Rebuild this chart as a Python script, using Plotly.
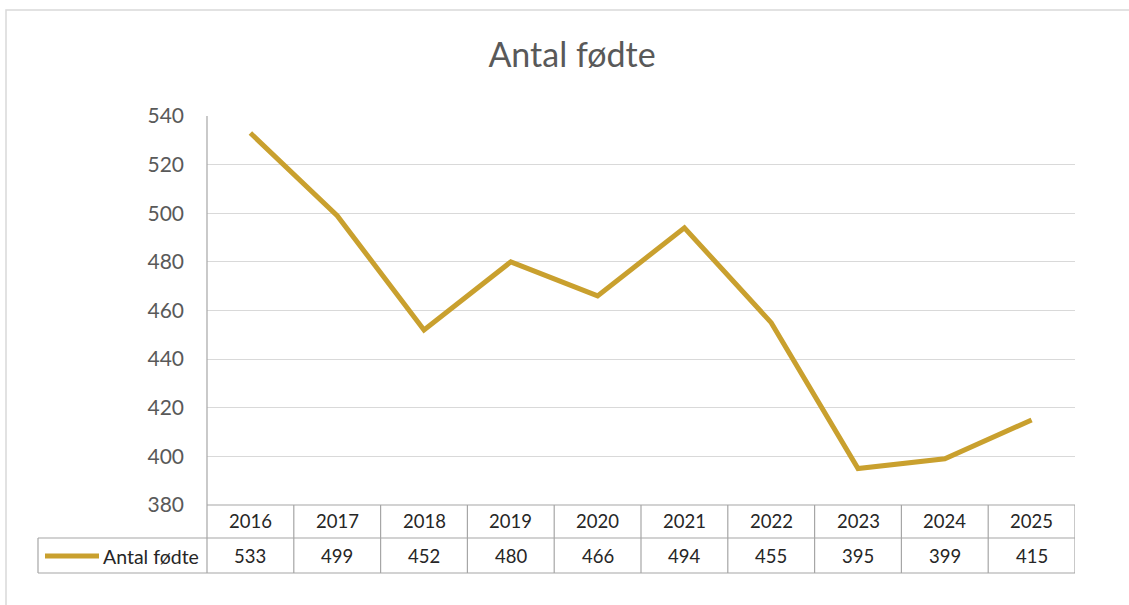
import plotly.graph_objects as go

years = ["2016", "2017", "2018", "2019", "2020", "2021", "2022", "2023", "2024", "2025"]
values = [533, 499, 452, 480, 466, 494, 455, 395, 399, 415]
series_name = "Antal fødte"
title_text = "Antal fødte"
y_ticks = [380, 400, 420, 440, 460, 480, 500, 520, 540]

OFF = 0  # body margin removed via post_script
W, H = 1129 - OFF, 605 - OFF
PL, PR, PT, PB = 207, 1075, 116, 505   # plot area in page pixels
ML = PL - OFF
MT = PT - OFF
MR = W - (PR - OFF)
MB = H - (PB - OFF)
PW = PR - PL
PH = PB - PT

def px_to_paper_x(px):
    return (px - PL) / PW

def px_to_paper_y(py):
    return (PB - py) / PH

line_color = "#C9A02E"
table_color = "#A6A6A6"
grid_color = "#D9D9D9"
font_family = "Lato, 'Open Sans', sans-serif"

xs = list(range(len(years)))

fig = go.Figure()
fig.add_trace(go.Scatter(
    x=xs, y=values, mode="lines", name=series_name,
    line=dict(color=line_color, width=5),
    hoverinfo="skip", showlegend=False,
))

row1_top = px_to_paper_y(505)
row1_bot = px_to_paper_y(538)
row2_bot = px_to_paper_y(573)
tbl_left = px_to_paper_x(38)

shapes = []
# outer chart border
shapes.append(dict(type="rect", xref="paper", yref="paper",
                   x0=px_to_paper_x(6), x1=1.3, y0=-0.6, y1=px_to_paper_y(10),
                   line=dict(color=grid_color, width=1.5), layer="below"))
# vertical axis line extended through table
shapes.append(dict(type="line", xref="paper", yref="paper", x0=0, x1=0,
                   y0=row2_bot, y1=1, line=dict(color=table_color, width=1.2)))
# horizontal table lines
shapes.append(dict(type="line", xref="paper", yref="paper", x0=0, x1=1,
                   y0=row1_top, y1=row1_top, line=dict(color=table_color, width=1.2)))
for yy in (row1_bot, row2_bot):
    shapes.append(dict(type="line", xref="paper", yref="paper", x0=tbl_left, x1=1,
                       y0=yy, y1=yy, line=dict(color=table_color, width=1.2)))
# table left edge
shapes.append(dict(type="line", xref="paper", yref="paper", x0=tbl_left, x1=tbl_left,
                   y0=row2_bot, y1=row1_bot, line=dict(color=table_color, width=1.2)))
# column separators
for i in xs:
    shapes.append(dict(type="line", xref="x", yref="paper", x0=i + 0.5, x1=i + 0.5,
                       y0=row2_bot, y1=row1_top, line=dict(color=table_color, width=1.2)))
# legend key in table
key_y = px_to_paper_y(556)
shapes.append(dict(type="line", xref="paper", yref="paper",
                   x0=px_to_paper_x(45), x1=px_to_paper_x(99), y0=key_y, y1=key_y,
                   line=dict(color=line_color, width=5)))

annotations = []
hdr_y = px_to_paper_y(521)
TF = 18.5
for i, (yr, v) in enumerate(zip(years, values)):
    annotations.append(dict(x=i, y=hdr_y, xref="x", yref="paper", text=yr, showarrow=False,
                            yanchor="middle",
                            font=dict(size=TF, color="#262626", family=font_family)))
    annotations.append(dict(x=i, y=key_y, xref="x", yref="paper", text=str(v), showarrow=False,
                            yanchor="middle",
                            font=dict(size=TF, color="#262626", family=font_family)))
annotations.append(dict(x=px_to_paper_x(201), y=key_y, xref="paper", yref="paper",
                        text=series_name, showarrow=False, xanchor="right", yanchor="middle",
                        font=dict(size=19.5, color="#262626", family=font_family)))

fig.update_layout(
    width=W, height=H,
    margin=dict(l=ML, r=MR, t=MT, b=MB, pad=0),
    paper_bgcolor="white", plot_bgcolor="white",
    title=dict(text=title_text, x=(572 - OFF) / W, xref="container", xanchor="center",
               y=1 - (55 - OFF) / H, yref="container", yanchor="middle",
               font=dict(size=34, color="#595959", family=font_family)),
    xaxis=dict(range=[-0.5, len(years) - 0.5], showticklabels=False, showgrid=False,
               zeroline=False, showline=False, fixedrange=True),
    yaxis=dict(range=[380, 540], tickvals=y_ticks, showgrid=True, gridcolor=grid_color,
               gridwidth=1, zeroline=False, showline=False, ticks="",
               ticklabelstandoff=22,
               tickfont=dict(size=21, color="#595959", family=font_family)),
    shapes=shapes,
    annotations=annotations,
    font=dict(family=font_family),
)

fig.write_html("out.html",
               config={"displayModeBar": False},
               post_script="document.body.style.margin='0';document.body.style.overflow='hidden';")
